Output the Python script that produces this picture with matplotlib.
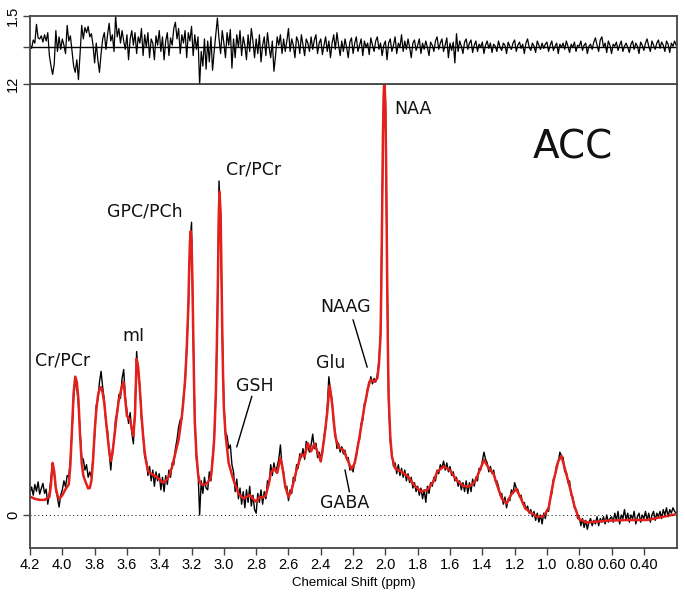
# MRS spectrum (ACC) with fit and residual
import numpy as np
import matplotlib
matplotlib.use("Agg")
import matplotlib.pyplot as plt

# LCModel-style fit (red), ppm / signal
fit_ppm = [4.20, 4.17, 4.14, 4.11, 4.08, 4.07, 4.06, 4.05, 4.04, 4.03, 4.02, 4.00, 3.98, 3.96,
           3.95, 3.94, 3.93, 3.92, 3.91, 3.90, 3.89, 3.88, 3.87, 3.86, 3.85, 3.84, 3.83, 3.82,
           3.81, 3.80, 3.79, 3.78, 3.77, 3.76, 3.75, 3.74, 3.73, 3.72, 3.71, 3.70, 3.69, 3.68,
           3.67, 3.66, 3.65, 3.64, 3.63, 3.62, 3.61, 3.60, 3.59, 3.58, 3.57, 3.56, 3.55, 3.54,
           3.53, 3.52, 3.51, 3.50, 3.49, 3.48, 3.47, 3.46, 3.44, 3.42, 3.40, 3.38, 3.36, 3.34,
           3.32, 3.30, 3.28, 3.26, 3.25, 3.24, 3.23, 3.22, 3.215, 3.21, 3.205, 3.20, 3.195, 3.19,
           3.185, 3.18, 3.17, 3.16, 3.15, 3.14, 3.12, 3.10, 3.08, 3.07, 3.06, 3.05, 3.045, 3.04,
           3.035, 3.03, 3.027, 3.02, 3.015, 3.01, 3.005, 3.00, 2.99, 2.97, 2.94, 2.91, 2.88, 2.86,
           2.84, 2.82, 2.80, 2.78, 2.76, 2.74, 2.72, 2.71, 2.69, 2.67, 2.65, 2.64, 2.62, 2.60,
           2.58, 2.55, 2.52, 2.50, 2.48, 2.46, 2.44, 2.42, 2.40, 2.38, 2.36, 2.35, 2.345, 2.34,
           2.33, 2.31, 2.29, 2.26, 2.23, 2.21, 2.19, 2.16, 2.13, 2.10, 2.09, 2.07, 2.05, 2.04,
           2.03, 2.025, 2.02, 2.015, 2.01, 2.006, 2.00, 1.995, 1.99, 1.985, 1.98, 1.97, 1.96, 1.94,
           1.90, 1.86, 1.82, 1.78, 1.74, 1.70, 1.68, 1.64, 1.60, 1.56, 1.52, 1.48, 1.445, 1.42,
           1.39, 1.36, 1.33, 1.31, 1.28, 1.25, 1.22, 1.19, 1.165, 1.135, 1.10, 1.06, 1.02, 0.99,
           0.96, 0.93, 0.91, 0.89, 0.86, 0.83, 0.80, 0.75, 0.63, 0.50, 0.38, 0.26, 0.20]
fit_val = [0.51, 0.45, 0.42, 0.42, 0.50, 0.85, 1.45, 1.20, 0.75, 0.55, 0.44, 0.55, 0.72, 0.85,
           1.40, 2.40, 3.40, 3.85, 3.70, 3.20, 2.20, 1.45, 1.10, 0.97, 0.85, 0.74, 0.75, 0.95,
           1.50, 2.30, 2.90, 3.30, 3.50, 3.56, 3.40, 3.10, 2.65, 2.20, 1.80, 1.50, 1.70, 2.10,
           2.50, 2.90, 3.20, 3.40, 3.60, 3.70, 3.20, 2.75, 2.70, 2.65, 2.40, 2.20, 2.80, 4.35,
           4.10, 3.50, 2.80, 2.20, 1.75, 1.45, 1.25, 1.17, 1.12, 1.08, 1.00, 0.90, 0.95, 1.08,
           1.35, 1.72, 2.10, 2.75, 3.20, 3.76, 4.60, 5.80, 6.80, 7.60, 7.90, 7.60, 6.60, 5.20,
           3.80, 2.60, 1.70, 1.15, 0.92, 0.86, 0.84, 0.90, 1.06, 1.50, 2.10, 3.30, 4.30, 5.60,
           7.20, 8.60, 9.00, 8.40, 6.80, 5.20, 3.90, 3.00, 2.25, 1.44, 0.97, 0.60, 0.46, 0.50,
           0.56, 0.45, 0.37, 0.50, 0.48, 0.55, 0.90, 1.17, 1.30, 1.17, 1.58, 1.40, 0.80, 0.50,
           0.70, 1.25, 1.70, 1.63, 2.00, 1.77, 1.98, 1.75, 1.49, 2.09, 2.85, 3.40, 3.60, 3.45,
           3.10, 2.18, 1.88, 1.81, 1.49, 1.27, 1.44, 2.18, 3.02, 3.70, 3.76, 3.71, 3.80, 4.20,
           5.00, 6.50, 8.60, 10.60, 11.80, 12.10, 11.40, 9.60, 7.00, 4.80, 3.30, 2.20, 1.63, 1.30,
           1.20, 1.07, 0.82, 0.65, 0.70, 0.95, 1.20, 1.35, 1.25, 0.97, 0.81, 0.79, 0.93, 1.20,
           1.53, 1.30, 1.14, 0.85, 0.46, 0.32, 0.58, 0.72, 0.50, 0.19, 0.06, -0.05, -0.03, 0.19,
           0.93, 1.50, 1.64, 1.30, 0.80, 0.25, -0.12, -0.21, -0.16, -0.14, -0.14, -0.03, 0.02]

# measured spectrum (black), 0.01 ppm steps from 4.20 down to 0.20
data_val = [
    0.62, 0.78, 0.55, 0.85, 0.66, 0.92, 0.58, 0.74, 0.88, 0.60,
    0.72, 0.30, 0.62, 1.05, 1.42, 1.15, 0.70, 0.48, 0.22, 0.55,
    0.70, 0.95, 0.78, 1.10, 1.05, 1.55, 2.30, 3.25, 3.70, 3.55,
    3.05, 2.35, 1.60, 1.55, 1.25, 1.40, 1.05, 1.20, 1.05, 1.60,
    2.20, 3.05, 3.20, 3.70, 4.00, 3.55, 3.20, 2.55, 2.35, 1.75,
    1.25, 1.80, 2.05, 2.70, 2.80, 3.35, 3.25, 3.80, 4.05, 3.30,
    2.90, 2.55, 2.85, 2.30, 1.98, 2.95, 4.55, 4.00, 3.60, 2.65,
    2.30, 1.60, 1.55, 1.10, 1.35, 0.95, 1.25, 0.80, 1.20, 0.95,
    1.15, 0.70, 1.05, 0.65, 1.10, 0.85, 1.25, 1.05, 1.45, 1.40,
    1.85, 2.10, 2.45, 2.65, 2.70, 3.30, 3.65, 4.70, 5.70, 7.55,
    8.15, 5.10, 2.70, 1.55, 1.25, 0.00, 0.95, 0.60, 1.05, 0.75,
    0.70, 1.20, 0.95, 1.60, 2.05, 3.40, 5.50, 9.30, 8.30, 5.10,
    3.10, 2.30, 2.20, 1.85, 1.95, 1.40, 1.20, 0.65, 1.00, 0.45,
    0.75, 0.30, 0.65, 0.20, 0.70, 0.35, 0.80, 0.25, 0.55, 0.15,
    0.05, 0.60, 0.35, 0.70, 0.30, 0.65, 0.45, 0.95, 0.85, 1.40,
    1.10, 1.45, 1.20, 1.35, 1.55, 1.95, 1.35, 1.20, 0.75, 0.80,
    0.40, 0.70, 0.60, 1.05, 0.95, 1.40, 1.30, 1.70, 1.60, 1.85,
    1.55, 2.05, 1.90, 1.75, 1.95, 2.25, 1.85, 2.00, 1.60, 1.75,
    1.60, 1.70, 2.20, 2.40, 3.00, 3.85, 3.45, 3.20, 2.50, 2.30,
    1.85, 2.00, 1.75, 1.90, 1.70, 1.80, 1.55, 1.60, 1.25, 1.35,
    1.20, 1.50, 1.60, 2.00, 2.10, 2.55, 2.65, 3.10, 3.20, 3.55,
    3.60, 3.85, 3.65, 3.80, 3.70, 3.90, 4.30, 5.10, 8.50, 12.00,
    11.60, 7.10, 3.20, 2.05, 1.70, 1.35, 1.45, 1.15, 1.40, 1.10,
    1.30, 1.05, 1.25, 0.95, 1.15, 0.90, 1.05, 0.75, 0.90, 0.65,
    0.80, 0.55, 0.75, 0.45, 0.70, 0.35, 0.80, 0.60, 0.90, 0.80,
    1.05, 0.95, 1.25, 1.15, 1.40, 1.30, 1.50, 1.25, 1.45, 1.20,
    1.35, 1.10, 1.20, 0.95, 1.05, 0.80, 0.95, 0.70, 0.90, 0.65,
    0.95, 0.60, 0.90, 0.65, 1.00, 0.80, 1.05, 0.95, 1.30, 1.25,
    1.50, 1.75, 1.55, 1.45, 1.20, 1.35, 1.15, 1.25, 0.95, 0.95,
    0.80, 0.55, 0.60, 0.30, 0.50, 0.20, 0.45, 0.40, 0.70, 0.60,
    0.90, 0.75, 0.70, 0.50, 0.55, 0.30, 0.35, 0.15, 0.25, 0.05,
    0.15, -0.05, 0.10, -0.15, 0.05, -0.20, 0.00, -0.25, 0.05, -0.10,
    0.15, 0.10, 0.45, 0.60, 1.00, 1.10, 1.40, 1.45, 1.75, 1.65,
    1.60, 1.20, 1.20, 0.90, 0.95, 0.55, 0.50, 0.20, 0.15, -0.10,
    -0.05, -0.30, -0.10, -0.35, -0.15, -0.40, -0.20, -0.10, -0.30, -0.15,
    -0.25, -0.05, -0.30, -0.10, -0.20, -0.05, -0.25, 0.00, -0.20, -0.10,
    -0.05, -0.20, 0.05, -0.15, 0.10, -0.25, 0.00, -0.10, 0.15, -0.15,
    0.05, -0.20, 0.00, -0.10, 0.10, -0.25, -0.05, 0.05, -0.20, 0.00,
    -0.10, 0.10, -0.15, 0.05, -0.20, 0.00, 0.10, -0.15, 0.05, -0.05,
    0.10, -0.10, 0.15, 0.00, 0.20, -0.05, 0.15, 0.05, 0.20, 0.10,
    0.05]

# residual (top panel), same 0.01 ppm grid
resid_val = [
    0.10, -0.05, 0.35, 0.20, 1.10, 0.45, 0.40, 0.55, 0.25, 0.60,
    0.30, 0.70, -0.40, -0.90, -1.30, -0.80, 0.80, -0.20, 0.50, -0.10,
    0.40, 0.10, -0.30, 1.05, 0.30, 0.55, -0.20, -0.90, -1.20, -0.60,
    -1.55, -0.30, 1.05, 0.40, 0.95, 0.70, 1.00, 0.50, 0.65, 0.10,
    -0.75, 0.20, -0.60, -1.20, -0.30, 0.40, 0.70, -0.10, 0.60, 1.15,
    0.30, 0.60, -0.20, 1.50, 0.50, 0.90, 0.20, 0.80, 0.30, -0.10,
    0.60, -0.60, 0.40, 0.80, 0.10, 0.70, -0.30, 0.50, 0.20, 0.90,
    -0.40, 0.60, 0.00, 0.70, -0.50, 0.40, 0.20, -0.60, 0.55, 0.10,
    0.80, -0.20, 0.50, -0.60, 0.30, 0.70, -0.40, 0.45, 0.10, 0.90,
    1.20, 0.40, 0.90, -0.30, 0.60, 0.20, 0.80, -0.50, 0.70, 0.30,
    1.00, -0.40, 0.60, -0.10, 0.50, -1.80, -0.20, -0.90, 0.40, -1.05,
    0.30, -0.70, 0.50, -1.10, -0.20, 0.60, 1.40, 0.40, -0.30, 0.80,
    0.20, -0.50, 0.70, 0.10, 0.85, -1.00, 0.40, -0.50, 0.60, 0.00,
    0.80, -0.40, 0.50, 0.10, -0.60, 0.60, -0.20, 0.90, 0.30, -0.50,
    0.40, -0.30, 0.60, -0.70, 0.10, 0.50, -0.40, 0.70, 0.00, -0.50,
    0.30, -1.15, -0.40, 0.50, 0.10, 0.60, -0.30, 0.40, -0.20, 0.30,
    0.90, -0.20, 0.40, 0.10, -0.50, 0.50, 0.30, -0.30, 0.60, 0.10,
    -0.40, 0.40, 0.20, -0.20, 0.50, -0.10, 0.35, 0.60, -0.30, 0.20,
    0.40, -0.35, 0.10, 0.50, -0.20, 0.30, -0.50, 0.20, 0.60, -0.10,
    0.70, 0.10, -0.40, 0.30, -0.20, 0.40, 0.00, -0.50, 0.25, 0.45,
    -0.30, 0.20, 0.50, -0.20, 0.10, 0.40, -0.40, 0.30, 0.00, 0.20,
    -0.35, 0.45, 0.10, -0.20, 0.30, 0.50, -0.10, 0.20, -0.40, 0.10,
    0.30, -0.60, 0.20, 0.40, -0.20, 0.10, 0.50, -0.30, 0.20, 0.00,
    0.60, -0.20, 0.30, -0.10, 0.40, 0.00, -0.50, 0.20, 0.35, -0.15,
    0.10, 0.40, -0.30, 0.20, -0.10, 0.30, 0.00, -0.40, 0.25, 0.10,
    -0.20, 0.30, 0.50, -0.10, 0.20, 0.40, -0.20, 0.10, 0.45, -0.50,
    0.20, -0.15, 0.25, -0.75, 0.65, -0.20, 0.30, 0.05, -0.30, 0.25,
    0.40, -0.10, 0.20, 0.35, -0.25, 0.10, 0.30, -0.20, 0.15, 0.00,
    0.25, -0.30, 0.10, 0.30, -0.05, 0.20, -0.25, 0.15, 0.05, -0.20,
    0.30, 0.00, -0.15, 0.20, 0.10, -0.30, 0.25, 0.05, -0.10, 0.20,
    0.35, -0.20, 0.10, 0.25, -0.05, 0.15, -0.30, 0.20, 0.40, 0.00,
    -0.15, 0.20, 0.05, -0.25, 0.30, 0.10, -0.10, 0.20, -0.05, 0.15,
    0.25, -0.20, 0.10, 0.30, -0.15, 0.05, 0.20, -0.30, 0.15, 0.00,
    0.20, -0.10, 0.30, 0.05, -0.25, 0.15, 0.00, 0.25, -0.20, 0.10,
    0.05, 0.30, -0.15, 0.10, 0.20, -0.30, 0.05, 0.15, -0.10, 0.25,
    0.45, 0.10, -0.20, 0.35, 0.50, 0.00, 0.20, -0.25, 0.30, 0.10,
    -0.30, 0.15, 0.05, 0.25, -0.15, 0.10, 0.30, -0.20, 0.05, 0.20,
    0.00, -0.25, 0.15, 0.30, -0.10, 0.20, 0.05, -0.30, 0.25, 0.10,
    -0.15, 0.20, 0.40, 0.05, -0.20, 0.30, 0.10, -0.10, 0.20, 0.35,
    -0.05, 0.25, 0.10, -0.20, 0.30, 0.15, -0.25, 0.20, 0.05, 0.30,
    0.10]

x_ticks = [4.2, 4.0, 3.8, 3.6, 3.4, 3.2, 3.0, 2.8, 2.6, 2.4, 2.2, 2.0, 1.8, 1.6,
           1.4, 1.2, 1.0, 0.8, 0.6, 0.4]
x_ticklabels = ["4.2", "4.0", "3.8", "3.6", "3.4", "3.2", "3.0", "2.8", "2.6", "2.4",
                "2.2", "2.0", "1.8", "1.6", "1.4", "1.2", "1.0", "0.80", "0.60", "0.40"]

data_ppm = 4.20 - 0.01 * np.arange(len(data_val))
resid_ppm = 4.20 - 0.01 * np.arange(len(resid_val))

tick_font = ["Liberation Sans Narrow", "Liberation Sans"]
spine_col = "#444444"

fig = plt.figure(figsize=(6.85, 5.92), dpi=100)
ax = fig.add_axes([0.0438, 0.0743, 0.9445, 0.7838])
axr = fig.add_axes([0.0438, 0.8581, 0.9445, 0.1149], sharex=ax)

# main spectrum
ax.plot(data_ppm, data_val, color="black", lw=1.0)
ax.plot(fit_ppm, fit_val, color="#e3201b", lw=1.8)
ax.axhline(0, color="black", lw=0.7, ls=(0, (1, 3)))
ax.set_xlim(4.2, 0.195)
ax.set_ylim(-0.92, 12)

ax.set_xticks(x_ticks)
ax.set_xticklabels(x_ticklabels, family=tick_font, fontsize=10.5)
ax.set_yticks([0, 12])
ax.set_yticklabels(["0", "12"], rotation=90, va="center", family=tick_font, fontsize=10.5)
ax.tick_params(length=5, width=1, color=spine_col, pad=2)
ax.set_xlabel("Chemical Shift (ppm)", family=tick_font, fontsize=9.5, labelpad=4)
for s in ax.spines.values():
    s.set_color(spine_col)
    s.set_linewidth(1.3)

# residual panel
axr.plot(resid_ppm, resid_val, color="black", lw=0.9)
axr.axhline(0, color="black", lw=1.0)
axr.set_ylim(-1.76, 1.5)
axr.set_yticks([0, 1.5])
axr.set_yticklabels(["", "1.5"], rotation=90, va="center", family=tick_font, fontsize=10.5)
axr.tick_params(axis="y", length=5, width=1, color=spine_col, pad=2)
axr.tick_params(axis="x", bottom=False, labelbottom=False)
for s in axr.spines.values():
    s.set_color(spine_col)
    s.set_linewidth(1.3)

# peak labels
lab_kw = dict(fontsize=12.5, ha="center", va="center", color="#111111")
ax.text(4.00, 4.29, "Cr/PCr", **lab_kw)
ax.text(3.562, 4.99, "mI", **lab_kw)
ax.text(3.488, 8.45, "GPC/PCh", **lab_kw)
ax.text(2.814, 9.61, "Cr/PCr", **lab_kw)
ax.text(1.828, 11.3, "NAA", **lab_kw)
ax.text(2.248, 5.80, "NAAG", **lab_kw)
ax.text(2.339, 4.23, "Glu", **lab_kw)
ax.text(2.807, 3.59, "GSH", **lab_kw)
ax.text(2.25, 0.33, "GABA", **lab_kw)
ax.text(0.838, 10.24, "ACC", fontsize=28, ha="center", va="center", color="#111111")

# leader lines
ax.plot([2.200, 2.113], [5.43, 4.12], color="black", lw=1)
ax.plot([2.827, 2.920], [3.30, 1.90], color="black", lw=1)
ax.plot([2.250, 2.223], [1.25, 0.65], color="black", lw=1)

fig.savefig("out.png", dpi=100)
